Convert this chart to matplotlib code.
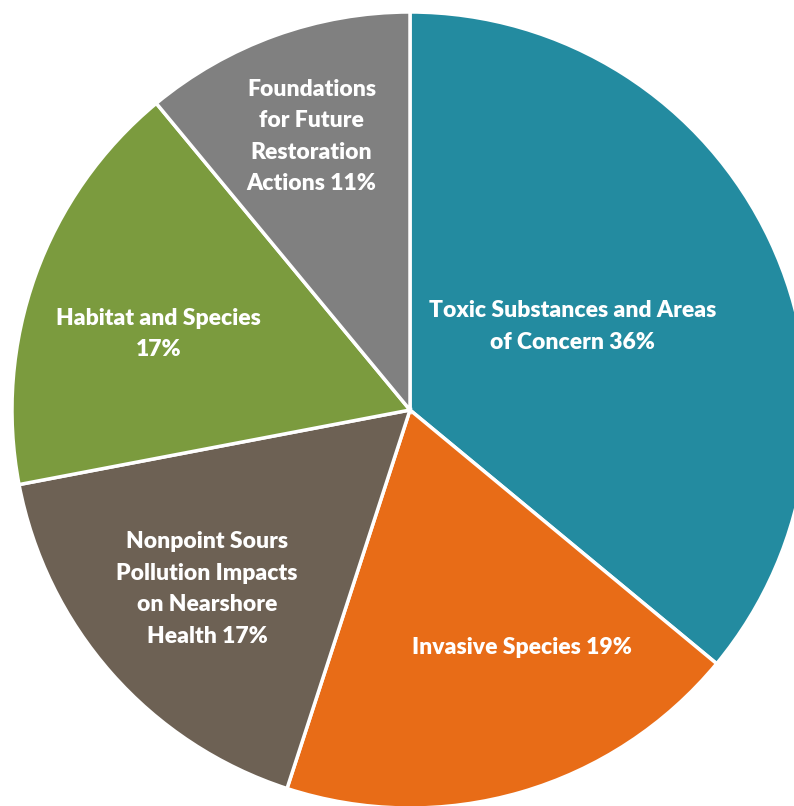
import numpy as np
import matplotlib
matplotlib.use("Agg")
import matplotlib.pyplot as plt

# data, clockwise from 12 o'clock
labels = [
    "Toxic Substances and Areas\nof Concern 36%",
    "Invasive Species 19%",
    "Nonpoint Sours\nPollution Impacts\non Nearshore\nHealth 17%",
    "Habitat and Species\n17%",
    "Foundations\nfor Future\nRestoration\nActions 11%",
]
shares = [36, 19, 17, 17, 11]
colors = ["#238ba0", "#e86c17", "#6d6154", "#7b9b3e", "#808080"]

# label placement: fraction of radius, angle nudge (deg)
label_r = [0.46, 0.66, 0.68, 0.66, 0.73]
label_dang = [2, 9, 0, 3, 0]

W, H = 794, 806
cx, cy, R = 410, H - 410, 398

fig = plt.figure(figsize=(W / 100, H / 100), dpi=100)
ax = fig.add_axes([0, 0, 1, 1])
wedges, _ = ax.pie(shares, colors=colors, startangle=90, counterclock=False,
                   center=(cx, cy), radius=R, frame=True,
                   wedgeprops=dict(edgecolor="white", linewidth=2.5))
ax.set_xlim(0, W)
ax.set_ylim(0, H)
ax.set_aspect("equal")
ax.axis("off")

for w, lab, fr, da in zip(wedges, labels, label_r, label_dang):
    mid = np.deg2rad((w.theta1 + w.theta2) / 2 + da)
    x = cx + fr * R * np.cos(mid)
    y = cy + fr * R * np.sin(mid)
    ax.text(x, y, lab, ha="center", va="center", color="white",
            fontsize=16.5, fontweight="heavy", family="Lato", linespacing=1.62)

fig.savefig("out.png", dpi=100, facecolor="white")
